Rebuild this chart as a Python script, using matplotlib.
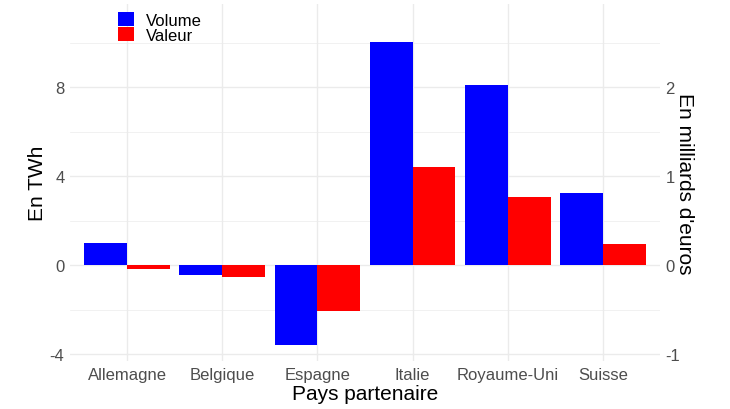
import matplotlib
matplotlib.use("Agg")
import matplotlib.pyplot as plt
import numpy as np
from matplotlib.patches import Patch

plt.rcParams['font.family'] = ['Liberation Sans', 'DejaVu Sans']
plt.rcParams['axes.unicode_minus'] = False

pays = ["Allemagne", "Belgique", "Espagne", "Italie", "Royaume-Uni", "Suisse"]
volume_twh = [1.02, -0.42, -3.6, 10.03, 8.1, 3.26]
valeur_mds = [-0.04, -0.13, -0.51, 1.11, 0.77, 0.245]
yticks_left = [-4, 0, 4, 8]
yticks_right = [-1, 0, 1, 2]
ratio = 4.0

fig = plt.figure(figsize=(7.3, 4.1), dpi=100)
ax = fig.add_axes([70/730, 1-362/410, 590/730, 357/410])
ax2 = ax.twinx()

x = np.arange(1, len(pays) + 1)
w = 0.45
ylim = (-4.3, 11.75)

ax.bar(x - w/2, volume_twh, width=w, color="#0000FF", zorder=3)
ax2.bar(x + w/2, valeur_mds, width=w, color="#FF0000", zorder=3)

ax.set_xlim(0.4, 6.6)
ax.set_ylim(*ylim)
ax2.set_ylim(ylim[0]/ratio, ylim[1]/ratio)

ax.set_xticks(x)
ax.set_xticklabels(pays)
ax.set_yticks(yticks_left)
ax.set_yticks([-2, 2, 6, 10], minor=True)
ax2.set_yticks(yticks_right)

ax.grid(True, which="major", color="#EBEBEB", linewidth=1.0, zorder=0)
ax.grid(True, which="minor", axis="y", color="#EBEBEB", linewidth=0.5, zorder=0)
ax.set_axisbelow(True)

for a in (ax, ax2):
    for s in a.spines.values():
        s.set_visible(False)
    a.tick_params(length=0, labelsize=12, labelcolor="#4D4D4D", which="both")
ax.tick_params(axis="x", pad=4)
ax.tick_params(axis="y", pad=4)
ax2.tick_params(axis="y", pad=4)

ax.set_ylabel("En TWh", fontsize=15, color="black", labelpad=2)
ax.set_xlabel("Pays partenaire", fontsize=15, color="black", labelpad=2)
ax2.set_ylabel("En milliards d'euros", fontsize=15, color="black", rotation=-90, labelpad=10)

handles = [Patch(facecolor="#0000FF", label="Volume"), Patch(facecolor="#FF0000", label="Valeur")]
ax2.legend(handles=handles, loc="upper left", bbox_to_anchor=(48/590, 0.978), frameon=False,
           fontsize=12, handlelength=0.95, handleheight=0.95, handletextpad=0.7,
           labelspacing=-0.06, borderaxespad=0, borderpad=0)

fig.savefig("out.png", dpi=100)
